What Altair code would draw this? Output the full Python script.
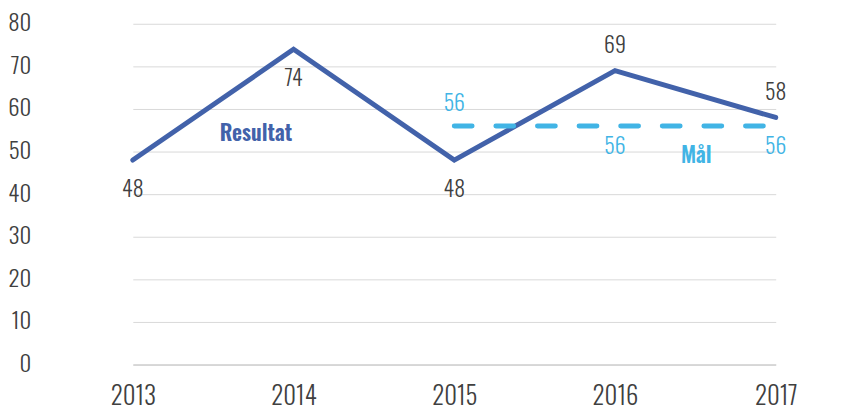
import altair as alt
import pandas as pd

years = ["2013", "2014", "2015", "2016", "2017"]
resultat = [48, 74, 48, 69, 58]
resultat_pos = ["below", "below", "below", "above", "above"]
mal_years = ["2015", "2016", "2017"]
mal = [56, 56, 56]
mal_pos = ["above", "below", "below"]
y_ticks = [0, 10, 20, 30, 40, 50, 60, 70, 80]

DARK = "#4262AA"
LIGHT = "#41B4E5"
GRAY = "#404040"
FONT = "Oswald, Open Sans Condensed Light, DejaVu Sans Condensed, sans-serif"

res_df = pd.DataFrame({"year": years, "value": resultat, "pos": resultat_pos})
mal_df = pd.DataFrame({"year": mal_years, "value": mal, "pos": mal_pos})

xscale = alt.Scale(type="point", domain=years, range=[82, 731], padding=0)
yscale = alt.Scale(domain=[0, 80], nice=False)

x_axis = alt.Axis(title=None, labelAngle=0, ticks=False, grid=False,
                  gridOpacity=0, tickOpacity=0,
                  domainColor="#c4c4c4", domainWidth=1,
                  labelFont=FONT, labelFontSize=25, labelFontWeight=300,
                  labelColor=GRAY, labelPadding=20)
y_axis = alt.Axis(title=None, values=y_ticks, ticks=False, domain=False,
                  grid=True, gridColor="#d9d9d9", gridWidth=1,
                  labelFont=FONT, labelFontSize=23, labelFontWeight=300,
                  labelColor=GRAY, labelPadding=21)
x_enc = alt.X("year:N", scale=xscale, sort=years, axis=x_axis)
y_enc = alt.Y("value:Q", scale=yscale, axis=y_axis)

base_res = alt.Chart(res_df)
base_mal = alt.Chart(mal_df)

res_line = base_res.mark_line(color=DARK, strokeWidth=5, strokeCap="round", strokeJoin="miter").encode(
    x=x_enc, y=y_enc)

mal_line = base_mal.mark_line(color=LIGHT, strokeWidth=5, strokeCap="round", strokeDash=[18, 24]).encode(
    x=x_enc, y=y_enc)

def labels(base, pos, color, dy):
    return base.transform_filter(alt.datum.pos == pos).mark_text(
        font=FONT, fontSize=22, fontWeight=300, color=color, baseline="middle", align="center", dy=dy
    ).encode(x=x_enc, y=y_enc, text="value:Q")

res_below = labels(base_res, "below", GRAY, 30)
res_above = labels(base_res, "above", GRAY, -25)
mal_below = labels(base_mal, "below", LIGHT, 21)
mal_above = labels(base_mal, "above", LIGHT, -22)

name_res_df = pd.DataFrame({"year": ["2014"], "value": [54.2], "name": ["Resultat"]})
name_mal_df = pd.DataFrame({"year": ["2016"], "value": [49.0], "name": ["Mål"]})
names_res = alt.Chart(name_res_df).mark_text(
    font=FONT, fontSize=22, fontWeight=600, color=DARK, dx=-38, baseline="middle"
).encode(x=x_enc, y=y_enc, text="name:N")
names_mal = alt.Chart(name_mal_df).mark_text(
    font=FONT, fontSize=22, fontWeight=600, color=LIGHT, dx=82, baseline="middle"
).encode(x=x_enc, y=y_enc, text="name:N")

chart = alt.layer(
    res_line, mal_line, res_below, res_above, mal_below, mal_above, names_res, names_mal
).properties(
    width=808, height=344,
    background="white",
    autosize=alt.AutoSizeParams(type="none"),
    padding={"left": 44, "top": 14, "right": 0, "bottom": 48},
).configure_view(stroke=None).configure_axisX(grid=False, gridOpacity=0, tickOpacity=0)

chart.save("out.html", embed_options={"renderer": "svg", "actions": False})
